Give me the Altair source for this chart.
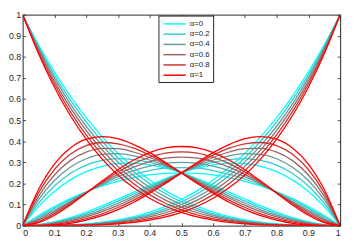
import altair as alt
import pandas as pd

T = [0, 0.05, 0.1, 0.15, 0.2, 0.25, 0.3, 0.35, 0.4, 0.45, 0.5,
     0.55, 0.6, 0.65, 0.7, 0.75, 0.8, 0.85, 0.9, 0.95, 1]

ALPHAS = ["α=0", "α=0.2", "α=0.4", "α=0.6", "α=0.8", "α=1"]
COLORS = ["#00ffff", "#33cccc", "#669999", "#996666", "#cc3333", "#ff0000"]

# curve starting at 1 (left)
B0 = {
    "α=0":   [1, .857, .729, .614, .512, .422, .343, .275, .216, .166, .125, .091, .064, .043, .027, .016, .008, .003, .001, 0, 0],
    "α=0.2": [1, .849, .714, .596, .492, .401, .322, .255, .199, .151, .113, .081, .056, .037, .023, .013, .007, .003, .001, 0, 0],
    "α=0.4": [1, .840, .700, .577, .471, .380, .302, .236, .181, .136, .100, .071, .049, .032, .019, .011, .005, .002, .001, 0, 0],
    "α=0.6": [1, .832, .685, .559, .451, .359, .281, .217, .164, .121, .088, .061, .041, .026, .016, .009, .004, .002, 0, 0, 0],
    "α=0.8": [1, .823, .671, .540, .430, .338, .261, .198, .147, .106, .075, .051, .033, .021, .012, .006, .003, .001, 0, 0, 0],
    "α=1":   [1, .815, .656, .522, .410, .316, .240, .179, .130, .092, .063, .041, .026, .015, .008, .004, .002, .001, 0, 0, 0],
}
# left hump
B1 = {
    "α=0":   [0, .090, .162, .217, .256, .281, .294, .296, .288, .272, .250, .223, .192, .159, .126, .094, .064, .038, .018, .005, 0],
    "α=0.2": [0, .106, .188, .247, .287, .309, .318, .313, .300, .278, .250, .218, .184, .150, .116, .084, .056, .033, .015, .004, 0],
    "α=0.4": [0, .123, .214, .277, .317, .338, .341, .331, .311, .283, .250, .214, .177, .140, .106, .075, .049, .028, .012, .003, 0],
    "α=0.6": [0, .139, .240, .308, .348, .366, .365, .349, .323, .289, .250, .209, .169, .131, .096, .066, .041, .022, .009, .002, 0],
    "α=0.8": [0, .155, .266, .338, .379, .394, .388, .367, .334, .294, .250, .205, .161, .121, .086, .056, .033, .017, .006, .001, 0],
    "α=1":   [0, .171, .292, .368, .410, .422, .412, .384, .346, .299, .250, .200, .154, .111, .076, .047, .026, .011, .004, 0, 0],
}
# middle hump
B2 = {
    "α=0":   [0, .048, .090, .128, .160, .188, .210, .228, .240, .248, .250, .248, .240, .228, .210, .188, .160, .128, .090, .048, 0],
    "α=0.2": [0, .041, .082, .122, .159, .192, .221, .244, .261, .272, .275, .272, .261, .244, .221, .192, .159, .122, .082, .041, 0],
    "α=0.4": [0, .034, .073, .114, .157, .197, .232, .261, .282, .296, .300, .296, .282, .261, .232, .197, .157, .114, .073, .034, 0],
    "α=0.6": [0, .027, .065, .110, .156, .202, .243, .277, .303, .320, .325, .320, .303, .277, .243, .202, .156, .110, .065, .027, 0],
    "α=0.8": [0, .020, .057, .104, .155, .206, .254, .294, .324, .344, .350, .344, .324, .294, .254, .206, .155, .104, .057, .020, 0],
    "α=1":   [0, .014, .049, .098, .154, .211, .265, .311, .346, .368, .375, .368, .346, .311, .265, .211, .154, .098, .049, .014, 0],
}
# right hump
B3 = {
    "α=0":   [0, .005, .018, .038, .064, .094, .126, .159, .192, .223, .250, .272, .288, .296, .294, .281, .256, .217, .162, .090, 0],
    "α=0.2": [0, .004, .015, .033, .056, .084, .116, .150, .184, .218, .250, .278, .300, .313, .318, .309, .287, .247, .188, .106, 0],
    "α=0.4": [0, .003, .012, .028, .049, .075, .106, .140, .177, .214, .250, .283, .311, .331, .341, .338, .317, .277, .214, .123, 0],
    "α=0.6": [0, .002, .009, .022, .041, .066, .096, .131, .169, .209, .250, .289, .323, .349, .365, .366, .348, .308, .240, .139, 0],
    "α=0.8": [0, .001, .006, .017, .033, .056, .086, .121, .161, .205, .250, .294, .334, .367, .388, .394, .379, .338, .266, .155, 0],
    "α=1":   [0, 0, .004, .011, .026, .047, .076, .111, .154, .200, .250, .299, .346, .384, .412, .422, .410, .368, .292, .171, 0],
}
# curve ending at 1 (right)
B4 = {
    "α=0":   [0, 0, .001, .003, .008, .016, .027, .043, .064, .091, .125, .166, .216, .275, .343, .422, .512, .614, .729, .857, 1],
    "α=0.2": [0, 0, .001, .003, .007, .013, .023, .037, .056, .081, .113, .151, .199, .255, .322, .401, .492, .596, .714, .849, 1],
    "α=0.4": [0, 0, .001, .002, .005, .011, .019, .032, .049, .071, .100, .136, .181, .236, .302, .380, .471, .577, .700, .840, 1],
    "α=0.6": [0, 0, 0, .002, .004, .009, .016, .026, .041, .061, .088, .121, .164, .217, .281, .359, .451, .559, .685, .832, 1],
    "α=0.8": [0, 0, 0, .001, .003, .006, .012, .021, .033, .051, .075, .106, .147, .198, .261, .338, .430, .540, .671, .823, 1],
    "α=1":   [0, 0, 0, .001, .002, .004, .008, .015, .026, .041, .063, .092, .130, .179, .240, .316, .410, .522, .656, .815, 1],
}

TICKS = [0, 0.1, 0.2, 0.3, 0.4, 0.5, 0.6, 0.7, 0.8, 0.9, 1]

rows = []
for ai, a in enumerate(ALPHAS):
    for fi, F in enumerate([B0, B1, B2, B3, B4]):
        for x, y in zip(T, F[a]):
            rows.append({"x": x, "y": y, "alpha": a, "series": f"{ai}_{fi}"})
df = pd.DataFrame(rows)

FONT = "Liberation Sans"
xs = alt.Scale(domain=[0, 1], nice=False, zero=False)
ys = alt.Scale(domain=[0, 1], nice=False, zero=False)

tick_common = dict(values=TICKS, tickSize=3, offset=-3, domain=False, grid=False,
                   title=None, tickColor="#262626", tickWidth=0.8)
label_common = dict(format="~g", labelFont=FONT, labelFontSize=9, labelColor="#262626")

frame = alt.Chart(df).mark_line(strokeOpacity=0).encode(
    x=alt.X("x:Q", scale=xs, axis=alt.Axis(orient="top", labels=False, **tick_common)),
    y=alt.Y("y:Q", scale=ys, axis=alt.Axis(orient="right", labels=False, **tick_common)),
    detail="series:N",
)

lines = alt.Chart(df).mark_line(strokeWidth=1.3, interpolate="monotone", clip=True).encode(
    x=alt.X("x:Q", scale=xs, axis=alt.Axis(orient="bottom", labelPadding=3, **tick_common, **label_common)),
    y=alt.Y("y:Q", scale=ys, axis=alt.Axis(orient="left", labelPadding=2, **tick_common, **label_common)),
    color=alt.Color("alpha:N", scale=alt.Scale(domain=ALPHAS, range=COLORS),
                    legend=alt.Legend(title=None, orient="none", legendX=139, legendY=1,
                                      symbolType="M-2.4,0L2.4,0", symbolSize=90,
                                      symbolStrokeWidth=1.5, symbolOffset=8,
                                      labelFont=FONT, labelFontSize=8, labelColor="#262626",
                                      strokeColor="#262626", fillColor="white", padding=3,
                                      rowPadding=0.5, labelOffset=10)),
    detail="series:N",
)

chart = alt.layer(frame, lines).resolve_axis(x="independent", y="independent").properties(
    width=325, height=216,
    autosize=alt.AutoSizeParams(type="none"),
    padding={"left": 15, "top": 4, "right": 6, "bottom": 15},
).configure_view(stroke="#262626", strokeWidth=1)

chart.save("out.html", embed_options={"renderer": "svg", "actions": False})
